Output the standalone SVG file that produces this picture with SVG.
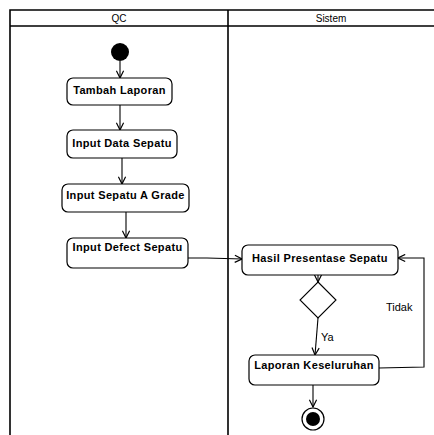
<svg xmlns="http://www.w3.org/2000/svg" width="434" height="435" viewBox="0 0 434 435">
  <style>
    .lane { fill: none; stroke: #000; stroke-width: 1.6; }
    .act rect { fill: #fff; stroke: #000; stroke-width: 1.2; }
    .act text { font-family: "Liberation Sans", Arial, sans-serif; font-size: 11px; font-weight: bold; letter-spacing: 0.35px; text-anchor: middle; fill: #000; }
    .hdr { font-family: "Liberation Sans", Arial, sans-serif; font-size: 10px; text-anchor: middle; fill: #000; }
    .lbl { font-family: "Liberation Sans", Arial, sans-serif; font-size: 11px; fill: #000; }
    .flow { fill: none; stroke: #000; stroke-width: 1.1; marker-end: url(#arr); }
  </style>
  <defs>
    <marker id="arr" viewBox="0 0 10 10" refX="9" refY="5" markerWidth="9" markerHeight="9" markerUnits="userSpaceOnUse" orient="auto">
      <path d="M1,1 L9,5 L1,9" fill="none" stroke="#000" stroke-width="1.3"/>
    </marker>
  </defs>

  <rect width="434" height="435" fill="#fff"/>

  <!-- swimlanes -->
  <g id="lanes">
    <path class="lane" d="M10,435 V10 H434 M10,26 H434 M228,10 V435"/>
    <text class="hdr" x="119" y="22">QC</text>
    <text class="hdr" x="331" y="22">Sistem</text>
  </g>

  <!-- connectors -->
  <g id="connectors">
    <path class="flow" d="M120,61 V78"/>
    <path class="flow" d="M120,105 V130"/>
    <path class="flow" d="M122,158 V184"/>
    <path class="flow" d="M126,212 V238"/>
    <path class="flow" d="M188,258 H207 L242,259"/>
    <path class="flow" d="M318,275 V282"/>
    <path class="flow" d="M318,318 L315,355"/>
    <path class="flow" d="M379,368 L424,367 V258 H398"/>
    <path class="flow" d="M313,385 V407"/>
    <text class="lbl" x="321" y="341">Ya</text>
    <text class="lbl" x="386" y="311">Tidak</text>
  </g>

  <!-- nodes -->
  <g id="start">
    <circle cx="120" cy="52" r="9" fill="#000"/>
  </g>
  <g id="tambah-laporan" class="act">
    <rect x="67" y="78" width="105" height="27" rx="6"/>
    <text x="119.5" y="94">Tambah Laporan</text>
  </g>
  <g id="input-data-sepatu" class="act">
    <rect x="67" y="130" width="110" height="28" rx="6"/>
    <text x="122" y="147">Input Data Sepatu</text>
  </g>
  <g id="input-sepatu-a-grade" class="act">
    <rect x="62" y="184" width="127" height="28" rx="6"/>
    <text x="125.5" y="199">Input Sepatu A Grade</text>
  </g>
  <g id="input-defect-sepatu" class="act">
    <rect x="67" y="238" width="121" height="30" rx="6"/>
    <text x="127.5" y="251">Input Defect Sepatu</text>
  </g>
  <g id="hasil-presentase-sepatu" class="act">
    <rect x="242" y="245" width="156" height="30" rx="6"/>
    <text x="320" y="262">Hasil Presentase Sepatu</text>
  </g>
  <g id="keputusan">
    <polygon points="318,282 336,300 318,318 300,300" fill="#fff" stroke="#000" stroke-width="1.1"/>
  </g>
  <g id="laporan-keseluruhan" class="act">
    <rect x="249" y="355" width="130" height="30" rx="6"/>
    <text x="314" y="369">Laporan Keseluruhan</text>
  </g>
  <g id="end">
    <circle cx="313" cy="419" r="11" fill="#fff" stroke="#000" stroke-width="1.2"/>
    <circle cx="313" cy="419" r="7" fill="#000"/>
  </g>
</svg>
